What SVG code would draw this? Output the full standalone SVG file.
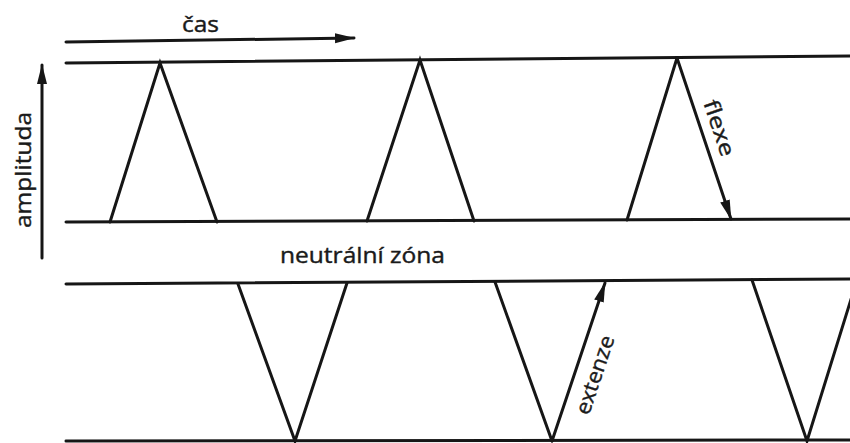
<svg xmlns="http://www.w3.org/2000/svg" width="850" height="443" viewBox="0 0 850 443">
  <defs>
    <style>
      .ln { stroke: #161616; stroke-width: 3; fill: none; stroke-linecap: round; stroke-linejoin: miter; }
      .lbl { font-family: "Open Sans", "Noto Sans", "Liberation Sans", sans-serif; font-size: 21px; fill: #1a1a1a; stroke: #1a1a1a; stroke-width: 0.4; }
    </style>
    <marker id="ah" markerUnits="userSpaceOnUse" markerWidth="22" markerHeight="14" refX="19" refY="7" orient="auto">
      <path d="M0,2 L20,7 L0,12 Z" fill="#161616"/>
    </marker>
  </defs>
  <rect width="850" height="443" fill="#ffffff"/>

  <g id="zone-lines">
    <line class="ln" x1="66" y1="63" x2="850" y2="56"/>
    <line class="ln" x1="66" y1="222" x2="850" y2="219"/>
    <line class="ln" x1="66" y1="284" x2="850" y2="279"/>
    <line class="ln" x1="66" y1="441" x2="850" y2="440"/>
  </g>

  <g id="flexion-peaks">
    <polyline class="ln" points="110,222 160,63 217,222"/>
    <polyline class="ln" points="367,221 420,60 474,221"/>
    <line class="ln" x1="627" y1="220" x2="677" y2="58"/>
  </g>

  <g id="extension-valleys">
    <polyline class="ln" points="238,284 295,441 347,283"/>
    <line class="ln" x1="495" y1="282" x2="552" y2="441"/>
    <polyline class="ln" points="752,280 807,441 857,280"/>
  </g>

  <g id="connectors">
    <line class="ln" x1="66" y1="42" x2="354" y2="38" marker-end="url(#ah)"/>
    <line class="ln" x1="42" y1="258" x2="42" y2="65" marker-end="url(#ah)"/>
    <line class="ln" x1="677" y1="58" x2="731" y2="219" marker-end="url(#ah)"/>
    <line class="ln" x1="552" y1="441" x2="605" y2="283" marker-end="url(#ah)"/>
  </g>

  <g id="label-cas">
    <text class="lbl" x="182" y="32" textLength="37" lengthAdjust="spacingAndGlyphs">čas</text>
  </g>
  <g id="label-amplituda">
    <text class="lbl" transform="translate(31,228) rotate(-90)" x="0" y="0" textLength="116" lengthAdjust="spacingAndGlyphs">amplituda</text>
  </g>
  <g id="label-neutralni-zona">
    <text class="lbl" x="280" y="263" textLength="165" lengthAdjust="spacingAndGlyphs">neutrální zóna</text>
  </g>
  <g id="label-flexe">
    <text class="lbl" transform="translate(719,128) rotate(71.5)" x="0" y="7" text-anchor="middle" textLength="58" lengthAdjust="spacingAndGlyphs">flexe</text>
  </g>
  <g id="label-extenze">
    <text class="lbl" transform="translate(595,375) rotate(-71.5)" x="0" y="7" text-anchor="middle" textLength="82" lengthAdjust="spacingAndGlyphs">extenze</text>
  </g>
</svg>
